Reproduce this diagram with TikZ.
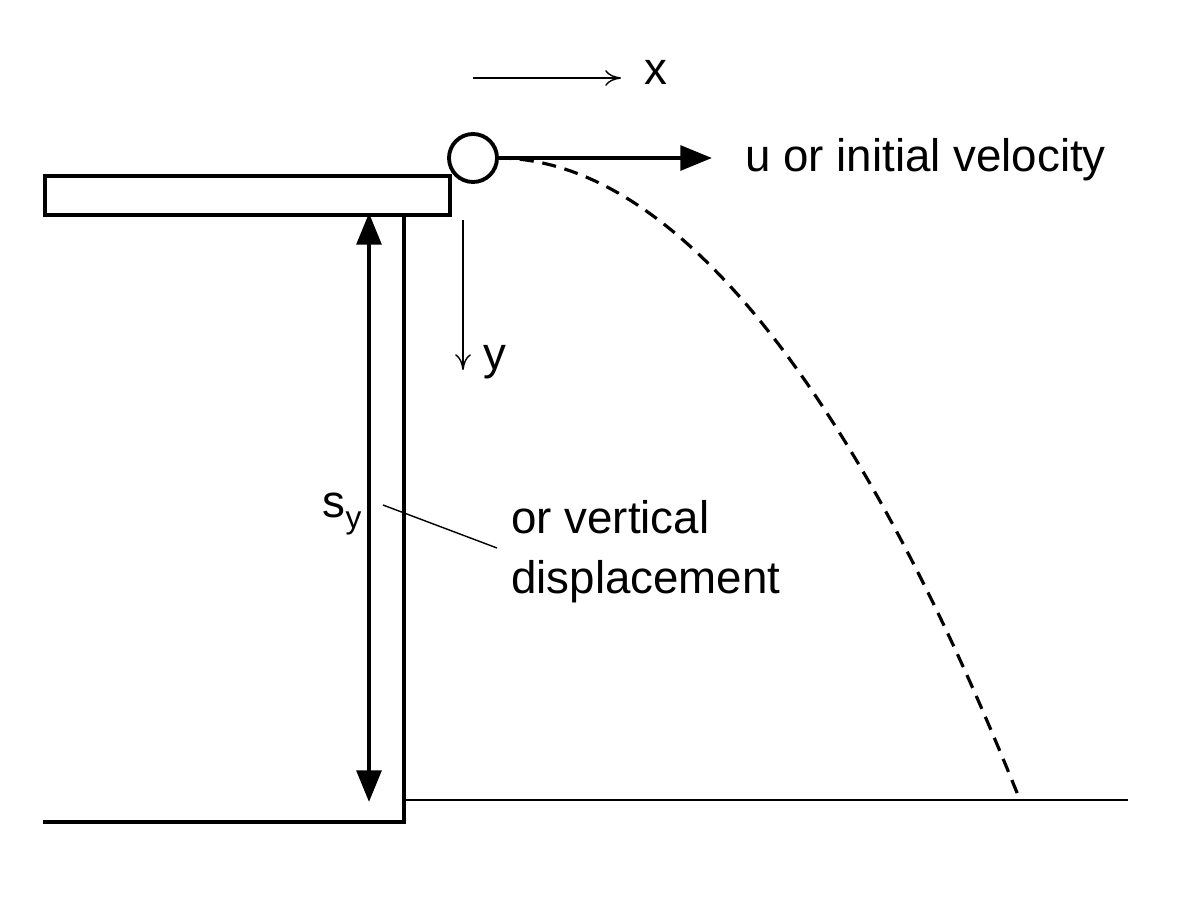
\documentclass[tikz,border=0pt]{standalone}
\usepackage{fontspec}
\setmainfont{Liberation Sans}
\usetikzlibrary{arrows.meta}
\begin{document}
\begin{tikzpicture}[x=0.02cm,y=-0.02cm,
  thick line/.style={line width=2.4pt},
  thin line/.style={line width=0.8pt},
  lbl/.style={font=\fontsize{26}{30}\selectfont, inner sep=0pt}]
\useasboundingbox (0,0) rectangle (1200,896);
% platform and wall
\node[draw, line width=2.2pt, minimum width=405*0.02cm, minimum height=39*0.02cm, inner sep=0pt, anchor=north west] (plat) at (43,174) {};
\coordinate (wtop) at (404,213);
\coordinate (wbot) at (404,822);
\coordinate (gl) at (43,822);
\draw[line width=2.2pt] (wtop) -- (wbot) -- (gl);
\coordinate (gr0) at (404,800);
\coordinate (gr1) at (1128,800);
\draw[thin line] (gr0) -- (gr1);
% ball
\node[draw, circle, line width=2.2pt, minimum size=48*0.02cm, inner sep=0pt] (ball) at (473,158) {};
\coordinate (vend) at (712,158);
\draw[line width=2.4pt, -{Triangle[length=18pt,width=14pt]}] (ball.east) -- (vend);
\node[lbl, anchor=west] (u) at (745,160) {u or initial velocity};
% axes
\coordinate (x0) at (473,78);
\coordinate (x1) at (621,78);
\draw[thin line, -{To[length=9pt,width=9pt]}] (x0) -- (x1);
\node[lbl] (xl) at (656,72) {x};
\coordinate (y0) at (463,220);
\coordinate (y1) at (463,370);
\draw[thin line, -{To[length=9pt,width=9pt]}] (y0) -- (y1);
\node[lbl] (yl) at (495,362) {y};
% s_y
\coordinate (s0) at (369,213);
\coordinate (s1) at (369,802);
\draw[line width=2.4pt, {Triangle[length=18pt,width=14pt]}-{Triangle[length=18pt,width=14pt]}] (s0) -- (s1);
\node[lbl] (sy) at (342,514) {s{\fontsize{18}{20}\selectfont\raisebox{-6pt}{y}}};
\coordinate (l0) at (383,505);
\coordinate (l1) at (497,548);
\draw[thin line] (l0) -- (l1);
\node[lbl, align=left, anchor=west] (desc) at (511,552) {or vertical\\[4pt]displacement};
% trajectory
\coordinate (p0) at (497,158);
\coordinate (p1) at (1020,800);
\draw[line width=1.8pt, dash pattern=on 8pt off 5pt] (p0) parabola (p1);
\end{tikzpicture}
\end{document}
